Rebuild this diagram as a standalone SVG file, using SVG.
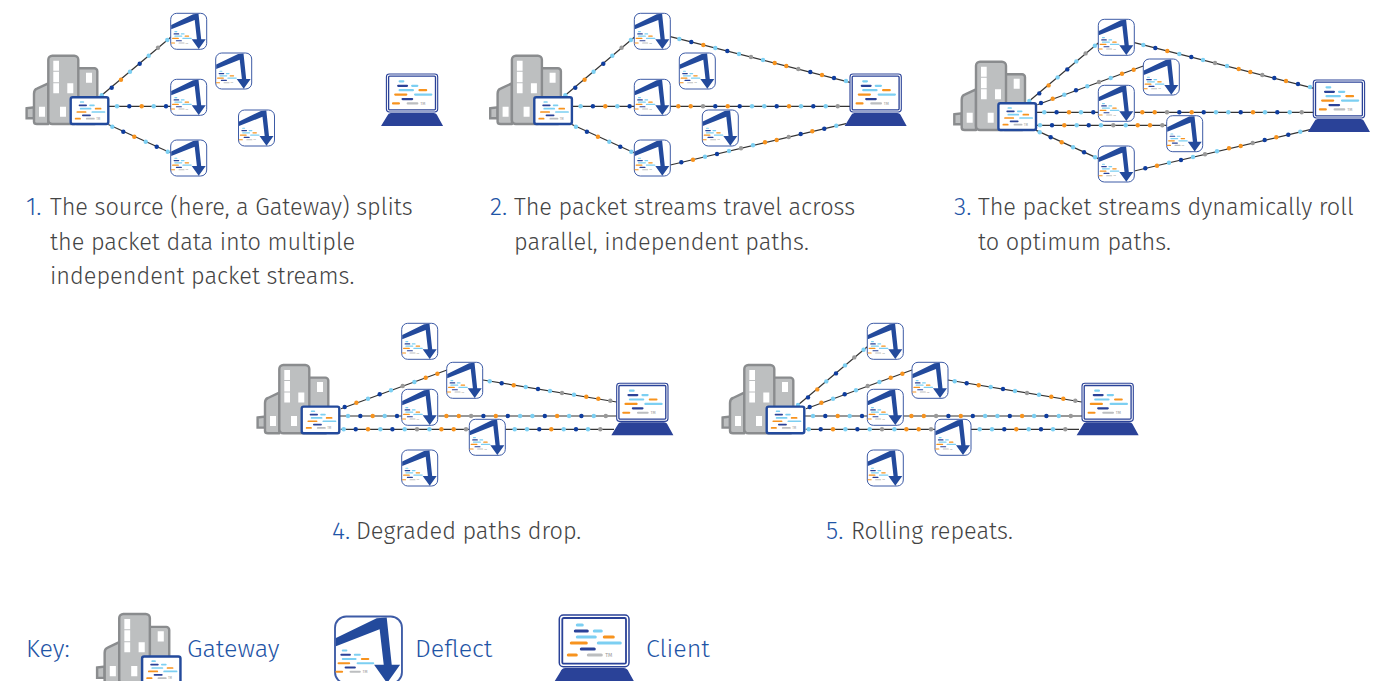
<svg xmlns="http://www.w3.org/2000/svg" xmlns:xlink="http://www.w3.org/1999/xlink" width="1382" height="681" viewBox="0 0 1382 681">
<style>
text{font-family:"Fira Sans","Open Sans","Noto Sans","Liberation Sans",sans-serif;font-weight:300;font-size:23.5px;fill:#444}
.num{fill:#1f55a6;font-size:25px}
.key{fill:#1f55a6;font-size:25px}
.tm{font-size:5.5px;fill:#999;font-weight:400}
.bar{stroke-width:3;stroke-linecap:round;fill:none}
.cl{stroke:#7ccff2}.cn{stroke:#2a4298}.co{stroke:#f7931e}.cg{stroke:#bcbec0}
.ln{stroke:#333;stroke-width:1.2;fill:none}
.lb{fill:#7ccff2}.n{fill:#0f3d9e}.o{fill:#f7931e}.g{fill:#999}
circle{r:2.2px}
.bld{fill:#bdbfc0;stroke:#8a8c8e;stroke-width:2.4;stroke-linejoin:round}
.win{fill:#fff}
</style>
<defs>
<g id="bars">
<path class="bar cl" d="M18 10H23M35 16H42M18 22H36M39 28H61"/>
<path class="bar cn" d="M16 16H28M22 34H35"/>
<path class="bar co" d="M45 22H54M12 28H27M9 40H17"/>
<path class="bar cg" d="M29 40H42"/>
<text class="tm" x="46" y="42">TM</text>
</g>
<g id="deflect">
<rect x="0" y="0" width="36" height="36" rx="6" fill="#fff" stroke="#3d5ba6" stroke-width="1"/>
<use href="#bars" transform="translate(-2.64,14.5) scale(.38)"/>
<path d="M.5 11.6L22.4 .9L27.8 .5L30.5 26L35 26L28 35.8L21 26L26.2 26L24 6.8L.5 16Z" fill="#234a9c"/>
</g>
<g id="client">
<path d="M6 53H64Q68 53 69.5 57L77 70.5H-7.3L1 57Q2.5 53 6 53Z" fill="#2a4298"/>
<rect x="0" y="0" width="69.7" height="51.7" rx="4" fill="#fff" stroke="#2a4298" stroke-width="1.5"/>
<rect x="3" y="3" width="63.7" height="45.7" rx="1.5" fill="#fff" stroke="#2a4298" stroke-width="1.8"/>
<use href="#bars"/>
</g>
<g id="gateway">
<path class="bld" style="stroke-linejoin:miter" d="M.6 52.5L8 51.6V62.6H.6Z"/>
<path class="bld" d="M8 66V38Q8 34 11 33L22.3 27.6V68.3H11Q8 68.3 8 66Z"/>
<rect class="bld" x="48" y="12.6" width="23.3" height="55.7" rx="3"/>
<rect class="bld" x="22.3" y="0" width="30" height="68.3" rx="4"/>
<path class="win" d="M27.3 5h5.7v10h-5.7zM27.3 16h5.7v10.6h-5.7zM27.3 27.6h5.7v10h-5.7zM41.3 27.6h6v10h-6zM34 51h6v10h-6zM13 51h6v10h-6zM60 17h6v10h-6z"/>
<rect x="44.7" y="41.6" width="37.6" height="26.7" rx="2" fill="#fff" stroke="#234a9c" stroke-width="2.4"/>
<use href="#bars" transform="translate(44.6,40.7) scale(.556)"/>
</g>
<g id="s-up">
<line class="ln" x1="101.7" y1="95.3" x2="171" y2="37"/>
<circle class="lb" cx="101.7" cy="95.3"/><circle class="n" cx="111.7" cy="87.7"/><circle class="o" cx="121" cy="79.7"/><circle class="lb" cx="130" cy="71.7"/><circle class="n" cx="139.7" cy="63.7"/><circle class="lb" cx="148.7" cy="55.7"/><circle class="g" cx="158" cy="47.7"/><circle class="lb" cx="167.3" cy="40"/>
</g>
<g id="s-mid">
<line class="ln" x1="108" y1="106.3" x2="171" y2="106.3"/>
<circle class="lb" cx="117" cy="106.3"/><circle class="n" cx="129.3" cy="106.3"/><circle class="o" cx="141.7" cy="106.3"/><circle class="lb" cx="153.7" cy="106.3"/><circle class="n" cx="166" cy="106.3"/>
</g>
<g id="s-low">
<line class="ln" x1="108.3" y1="124.5" x2="171" y2="153"/>
<circle class="lb" cx="112.3" cy="126.7"/><circle class="n" cx="123.3" cy="131.7"/><circle class="o" cx="134.3" cy="136.7"/><circle class="lb" cx="145.7" cy="141.7"/><circle class="n" cx="156.7" cy="146.7"/><circle class="lb" cx="167.7" cy="151.7"/>
</g>
<g id="r-top">
<line class="ln" x1="670.3" y1="36.7" x2="850" y2="82.3"/>
<circle class="lb" cx="679.3" cy="39"/><circle class="n" cx="691.3" cy="42"/><circle class="o" cx="703.3" cy="45"/><circle class="lb" cx="715.3" cy="48"/><circle class="n" cx="727.3" cy="51"/><circle class="lb" cx="739" cy="54"/><circle class="g" cx="751" cy="57"/><circle class="lb" cx="763" cy="60"/><circle class="o" cx="774.7" cy="63"/><circle class="o" cx="786.3" cy="66"/><circle class="g" cx="798.3" cy="69"/><circle class="n" cx="810.3" cy="72"/><circle class="o" cx="822" cy="75"/><circle class="n" cx="834" cy="78"/><circle class="lb" cx="846" cy="81"/>
</g>
<g id="r-mid">
<line class="ln" x1="670.3" y1="106.3" x2="850" y2="106.3"/>
<circle class="o" cx="678.3" cy="106.3"/><circle class="o" cx="690.7" cy="106.3"/><circle class="g" cx="703" cy="106.3"/><circle class="n" cx="715.3" cy="106.3"/><circle class="o" cx="727.7" cy="106.3"/><circle class="n" cx="739.7" cy="106.3"/><circle class="lb" cx="752" cy="106.3"/><circle class="lb" cx="764.3" cy="106.3"/><circle class="n" cx="776.7" cy="106.3"/><circle class="o" cx="789" cy="106.3"/><circle class="lb" cx="801" cy="106.3"/><circle class="n" cx="813.3" cy="106.3"/><circle class="lb" cx="825.7" cy="106.3"/><circle class="g" cx="837.7" cy="106.3"/>
</g>
<g id="r-bot">
<line class="ln" x1="670.3" y1="165" x2="846" y2="123.6"/>
<circle class="n" cx="681.3" cy="162.3"/><circle class="o" cx="693" cy="159.7"/><circle class="lb" cx="705" cy="156.7"/><circle class="n" cx="717" cy="154"/><circle class="lb" cx="729" cy="151"/><circle class="g" cx="741" cy="148.3"/><circle class="lb" cx="753" cy="145.3"/><circle class="o" cx="765" cy="142.3"/><circle class="o" cx="776.7" cy="140"/><circle class="g" cx="788.7" cy="137"/><circle class="n" cx="800.7" cy="134"/><circle class="o" cx="812.3" cy="131.3"/><circle class="n" cx="824.3" cy="128.7"/><circle class="lb" cx="836.3" cy="125.7"/>
</g>
<g id="t-second">
<line class="ln" x1="1037.3" y1="104.7" x2="1143.3" y2="66"/>
<circle class="n" cx="1041" cy="103"/><circle class="o" cx="1052.7" cy="98.7"/><circle class="lb" cx="1064.3" cy="94.7"/><circle class="n" cx="1076" cy="90.3"/><circle class="lb" cx="1087.3" cy="86.3"/><circle class="g" cx="1099" cy="82"/><circle class="lb" cx="1110.7" cy="78"/><circle class="o" cx="1122" cy="73.7"/><circle class="o" cx="1133.7" cy="69.7"/>
</g>
<g id="t-fourth">
<line class="ln" x1="1037" y1="125.3" x2="1166.7" y2="125.3"/>
<circle class="lb" cx="1040" cy="125.3"/><circle class="n" cx="1052" cy="125.3"/><circle class="o" cx="1064.3" cy="125.3"/><circle class="lb" cx="1076.7" cy="125.3"/><circle class="n" cx="1088.7" cy="125.3"/><circle class="lb" cx="1101" cy="125.3"/><circle class="g" cx="1113.3" cy="125.3"/><circle class="lb" cx="1125.7" cy="125.3"/><circle class="o" cx="1137.7" cy="125.3"/><circle class="o" cx="1150" cy="125.3"/><circle class="g" cx="1162.3" cy="125.3"/>
</g>
<g id="f-top">
<line class="ln" x1="483" y1="380" x2="616.7" y2="402"/>
<circle class="lb" cx="489.7" cy="381.3"/><circle class="n" cx="501.7" cy="383.3"/><circle class="o" cx="513.7" cy="385.3"/><circle class="lb" cx="525.7" cy="387"/><circle class="n" cx="538" cy="389"/><circle class="lb" cx="550" cy="391"/><circle class="g" cx="562" cy="393"/><circle class="lb" cx="574" cy="394.7"/><circle class="o" cx="586.3" cy="396.7"/><circle class="o" cx="598.3" cy="398.7"/><circle class="g" cx="610.3" cy="400.7"/>
</g>
<g id="f-low">
<line class="ln" x1="505.3" y1="429.3" x2="614" y2="429.3"/>
<circle class="lb" cx="514.7" cy="429.3"/><circle class="lb" cx="527" cy="429.3"/><circle class="n" cx="539.3" cy="429.3"/><circle class="o" cx="551.3" cy="429.3"/><circle class="lb" cx="563.7" cy="429.3"/><circle class="n" cx="576" cy="429.3"/><circle class="lb" cx="588" cy="429.3"/><circle class="g" cx="600.3" cy="429.3"/>
</g>
</defs>

<g id="connectors">
<use href="#s-up"/><use href="#s-mid"/><use href="#s-low"/>
<use href="#s-up" x="463.6"/><use href="#s-mid" x="463.6"/><use href="#s-low" x="463.6"/>
<use href="#r-top"/><use href="#r-mid"/><use href="#r-bot"/>
<use href="#s-up" x="927.6" y="5.7"/><use href="#t-second"/><use href="#s-mid" x="927.3" y="6"/><use href="#t-fourth"/><use href="#s-low" x="927.4" y="5.6"/>
<use href="#r-top" x="464" y="6"/><use href="#r-mid" x="464" y="6"/><use href="#r-bot" x="464" y="6"/>
<use href="#t-second" x="-696.3" y="304"/><use href="#s-mid" x="231" y="309.7"/><use href="#t-fourth" x="-696.3" y="304"/>
<use href="#f-top"/><use href="#r-mid" x="-231.9" y="309.7"/><use href="#f-low"/>
<use href="#s-up" x="696.3" y="309.7"/><use href="#t-second" x="-231.3" y="304"/><use href="#s-mid" x="696" y="309.7"/><use href="#t-fourth" x="-231.3" y="304"/>
<use href="#f-top" x="465"/><use href="#r-mid" x="233.1" y="309.7"/><use href="#f-low" x="465"/>
</g>

<g id="p1-gateway"><use href="#gateway" x="26" y="55.7"/></g>
<g id="p1-deflect-1"><use href="#deflect" x="170.7" y="13.3"/></g>
<g id="p1-deflect-2"><use href="#deflect" x="215.7" y="53"/></g>
<g id="p1-deflect-3"><use href="#deflect" x="170.7" y="79.3"/></g>
<g id="p1-deflect-4"><use href="#deflect" x="238.5" y="110"/></g>
<g id="p1-deflect-5"><use href="#deflect" x="170.7" y="140"/></g>
<g id="p1-client"><use href="#client" transform="translate(386.4,74) scale(.736)"/></g>

<g id="p2-gateway"><use href="#gateway" x="489.6" y="55.7"/></g>
<g id="p2-deflect-1"><use href="#deflect" x="634.3" y="13.3"/></g>
<g id="p2-deflect-2"><use href="#deflect" x="679.3" y="53"/></g>
<g id="p2-deflect-3"><use href="#deflect" x="634.3" y="79.3"/></g>
<g id="p2-deflect-4"><use href="#deflect" x="702.3" y="110"/></g>
<g id="p2-deflect-5"><use href="#deflect" x="634.3" y="140"/></g>
<g id="p2-client"><use href="#client" transform="translate(850,74) scale(.736)"/></g>

<g id="p3-gateway"><use href="#gateway" x="953.7" y="61.7"/></g>
<g id="p3-deflect-1"><use href="#deflect" x="1098.3" y="19.3"/></g>
<g id="p3-deflect-2"><use href="#deflect" x="1143.3" y="59"/></g>
<g id="p3-deflect-3"><use href="#deflect" x="1098.3" y="85.3"/></g>
<g id="p3-deflect-4"><use href="#deflect" x="1166.7" y="115.7"/></g>
<g id="p3-deflect-5"><use href="#deflect" x="1098.3" y="146"/></g>
<g id="p3-client"><use href="#client" transform="translate(1313.3,80) scale(.736)"/></g>

<g id="p4-gateway"><use href="#gateway" x="257" y="365"/></g>
<g id="p4-deflect-1"><use href="#deflect" x="401.7" y="323.3"/></g>
<g id="p4-deflect-2"><use href="#deflect" x="446.7" y="362.3"/></g>
<g id="p4-deflect-3"><use href="#deflect" x="401.7" y="389.3"/></g>
<g id="p4-deflect-4"><use href="#deflect" x="469.3" y="419.3"/></g>
<g id="p4-deflect-5"><use href="#deflect" x="401.7" y="450"/></g>
<g id="p4-client"><use href="#client" transform="translate(616.7,383.3) scale(.736)"/></g>

<g id="p5-gateway"><use href="#gateway" x="722" y="365"/></g>
<g id="p5-deflect-1"><use href="#deflect" x="867.3" y="323.3"/></g>
<g id="p5-deflect-2"><use href="#deflect" x="912" y="362.3"/></g>
<g id="p5-deflect-3"><use href="#deflect" x="867.3" y="389.3"/></g>
<g id="p5-deflect-4"><use href="#deflect" x="935" y="419.3"/></g>
<g id="p5-deflect-5"><use href="#deflect" x="867.3" y="450"/></g>
<g id="p5-client"><use href="#client" transform="translate(1082,383.3) scale(.736)"/></g>

<g id="key-gateway"><use href="#gateway" transform="translate(96.5,614) scale(1.02)"/></g>
<g id="key-deflect"><use href="#deflect" transform="translate(335,616.5) scale(1.86)"/></g>
<g id="key-client"><use href="#client" transform="translate(559.3,615)"/></g>

<g id="captions">
<text class="num" x="26" y="215">1.</text>
<text x="50" y="215">The source (here, a Gateway) splits</text>
<text x="50" y="250">the packet data into multiple</text>
<text x="50" y="284">independent packet streams.</text>
<text class="num" x="490" y="215">2.</text>
<text x="514" y="215">The packet streams travel across</text>
<text x="514" y="250">parallel, independent paths.</text>
<text class="num" x="954" y="215">3.</text>
<text x="978" y="215">The packet streams dynamically roll</text>
<text x="978" y="250">to optimum paths.</text>
<text class="num" x="332" y="539">4.</text>
<text x="356" y="539">Degraded paths drop.</text>
<text class="num" x="826" y="539">5.</text>
<text x="851" y="539">Rolling repeats.</text>
<text class="key" x="26" y="657">Key:</text>
<text class="key" x="187" y="657">Gateway</text>
<text class="key" x="415" y="657">Deflect</text>
<text class="key" x="646" y="657">Client</text>
</g>
</svg>
